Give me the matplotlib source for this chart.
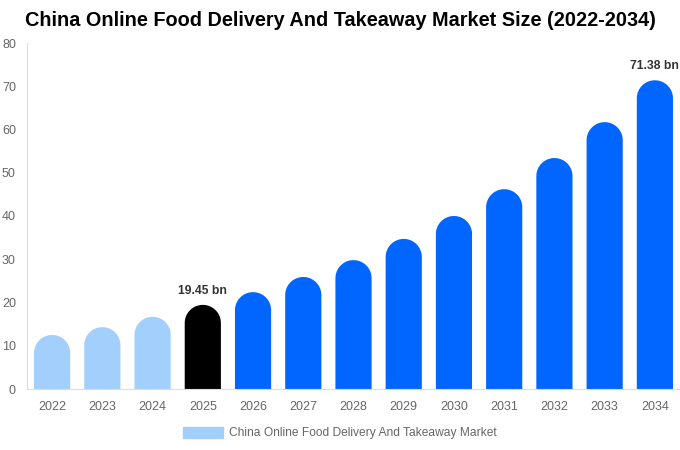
import numpy as np
import matplotlib.pyplot as plt
from matplotlib.patches import Polygon, Patch

plt.rcParams['font.family'] = ['Liberation Sans', 'DejaVu Sans']

# Data
years = ['2022', '2023', '2024', '2025', '2026', '2027', '2028',
         '2029', '2030', '2031', '2032', '2033', '2034']
values = [12.5, 14.3, 16.7, 19.45, 22.4, 25.9, 29.8,
          34.7, 40.0, 46.2, 53.4, 61.7, 71.38]
bar_colors = ['#a3cffd'] * 3 + ['#000000'] + ['#0066ff'] * 9
labels = {3: '19.45 bn', 12: '71.38 bn'}
legend_label = 'China Online Food Delivery And Takeaway Market'

fig = plt.figure(figsize=(6.8, 4.5), dpi=100)
ax = fig.add_axes([27/680, 1 - 389/450, 653/680, 346/450])
ax.set_xlim(-0.5, len(years) - 0.5)
ax.set_ylim(0, 80)

# rounded bar tops: semicircle radius = half of bar width in pixels
w = 0.72
px_per_x = 653.0 / len(years)
px_per_y = 346.0 / 80
ry = (w * px_per_x / 2) / px_per_y
theta = np.linspace(0, np.pi, 60)

for i, (v, c) in enumerate(zip(values, bar_colors)):
    top_x = i + (w / 2) * np.cos(theta)
    top_y = (v - ry) + ry * np.sin(theta)
    xs = np.concatenate([[i + w/2], top_x, [i - w/2]])
    ys = np.concatenate([[0], top_y, [0]])
    ax.add_patch(Polygon(np.column_stack([xs, ys]), closed=True,
                         facecolor=c, edgecolor='none'))
    if i in labels:
        ax.text(i, v + 1.9, labels[i], ha='center', va='bottom',
                fontsize=8.7, fontweight='bold', color='#333333')

ax.set_xticks(range(len(years)))
ax.set_xticklabels(years)
ax.set_yticks(range(0, 81, 10))
ax.tick_params(axis='both', length=0, labelsize=9, colors='#666666')
ax.tick_params(axis='x', pad=9)
ax.tick_params(axis='y', pad=8)
for s in ['top', 'right']:
    ax.spines[s].set_visible(False)
ax.spines['left'].set_color('#dddddd')
ax.spines['bottom'].set_color('#dddddd')

fig.suptitle('China Online Food Delivery And Takeaway Market Size (2022-2034)',
             x=0.5, y=1 - 21/450, va='center', fontsize=14.3, fontweight='bold')

fig.legend(handles=[Patch(color='#a3cffd', label=legend_label)],
           loc='center', bbox_to_anchor=(0.5, 1 - 433/450), frameon=False,
           fontsize=8.65, handlelength=3.3, handleheight=1.0, handletextpad=0.5,
           labelcolor='#666666')

fig.savefig('out.png', dpi=100)
